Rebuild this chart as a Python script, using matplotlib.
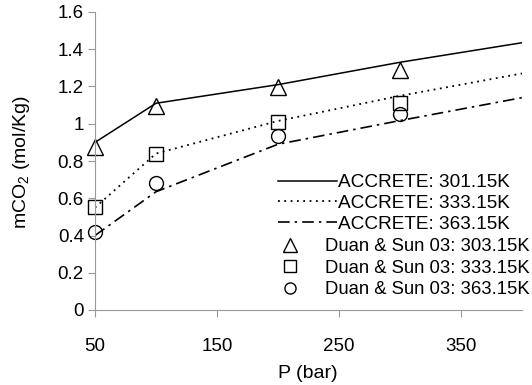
import matplotlib
matplotlib.use("Agg")
import matplotlib.pyplot as plt
from matplotlib.ticker import FuncFormatter, MultipleLocator
from matplotlib.lines import Line2D

plt.rcParams['font.family'] = ['Liberation Sans', 'DejaVu Sans']
plt.rcParams['mathtext.fontset'] = 'custom'
plt.rcParams['mathtext.rm'] = 'Liberation Sans'
plt.rcParams['mathtext.it'] = 'Liberation Sans'

# Data
P_model = [50, 100, 200, 300, 400]
accrete_301 = [0.90, 1.11, 1.21, 1.33, 1.435]
accrete_333 = [0.55, 0.84, 1.015, 1.15, 1.27]
accrete_363 = [0.40, 0.635, 0.89, 1.017, 1.14]

P_data = [50, 100, 200, 300]
duan_303 = [0.877, 1.095, 1.195, 1.29]
duan_333 = [0.553, 0.84, 1.01, 1.11]
duan_363 = [0.42, 0.68, 0.935, 1.05]

x_ticks = [50, 150, 250, 350]

W, H = 532, 385
fig = plt.figure(figsize=(W/100, H/100), dpi=100)
ax = fig.add_axes([95/W, 1-310/H, (522-95)/W, (310-12)/H])

ax.plot(P_model, accrete_301, color='black', lw=1.1, ls='-')
ax.plot(P_model, accrete_333, color='black', lw=1.3, ls=(0, (1, 2.5)))
ax.plot(P_model, accrete_363, color='black', lw=1.2, ls=(0, (7, 3, 1.5, 3)))

mk = dict(ls='none', mfc='none', mec='black', mew=1.0)
ax.plot(P_data, duan_303, marker='^', ms=11, clip_on=False, **mk)
ax.plot(P_data, duan_333, marker='s', ms=9.5, clip_on=False, **mk)
ax.plot(P_data, duan_363, marker='o', ms=10, clip_on=False, **mk)

ax.set_xlim(50, 400)
ax.set_ylim(0, 1.6)
ax.set_xticks(x_ticks)
ax.yaxis.set_major_locator(MultipleLocator(0.2))
ax.yaxis.set_major_formatter(FuncFormatter(lambda v, p: '%g' % round(v, 2)))

for s in ['top', 'right']:
    ax.spines[s].set_visible(False)
for s in ['left', 'bottom']:
    ax.spines[s].set_color('#999999')
    ax.spines[s].set_linewidth(0.8)
ax.tick_params(axis='both', colors='#999999', labelcolor='black', labelsize=13.5, length=5, width=0.8)
ax.tick_params(axis='x', pad=15)
ax.tick_params(axis='y', pad=3)

ax.set_xlabel('P (bar)', fontsize=14)
ax.set_ylabel('mCO$_2$ (mol/Kg)', fontsize=14)
ax.xaxis.set_label_coords((308-95)/(522-95), -(374-310)/(310-12), transform=ax.transAxes)
ax.xaxis.label.set_verticalalignment('center')
ax.yaxis.set_label_coords(-(95-22)/(522-95), (310-162)/(310-12), transform=ax.transAxes)
ax.yaxis.label.set_verticalalignment('center')

# Legends (Excel-like layout)
line_handles = [
    Line2D([], [], color='black', lw=1.1, ls='-'),
    Line2D([], [], color='black', lw=1.3, ls=(0, (1, 2.5))),
    Line2D([], [], color='black', lw=1.2, ls=(0, (7, 3, 1.5, 3))),
]
line_labels = ['ACCRETE: 301.15K', 'ACCRETE: 333.15K', 'ACCRETE: 363.15K']
leg1 = ax.legend(line_handles, line_labels, loc='upper left',
                 bbox_to_anchor=(278/W, 1-174/H), bbox_transform=fig.transFigure,
                 frameon=False, fontsize=13.7, handlelength=3.1, handletextpad=0.05,
                 labelspacing=0.18, borderpad=0, borderaxespad=0)
ax.add_artist(leg1)

mark_handles = [
    Line2D([], [], marker='^', ms=10, **mk),
    Line2D([], [], marker='s', ms=8, **mk),
    Line2D([], [], marker='o', ms=8, **mk),
]
mark_labels = ['Duan & Sun 03: 303.15K', 'Duan & Sun 03: 333.15K', 'Duan & Sun 03: 363.15K']
leg2 = ax.legend(mark_handles, mark_labels, loc='upper left',
                 bbox_to_anchor=(283/W, 1-238/H), bbox_transform=fig.transFigure,
                 frameon=False, fontsize=13.3, handlelength=0.75, handletextpad=1.5,
                 labelspacing=0.25, borderpad=0, borderaxespad=0)

fig.savefig('out.png', dpi=100, facecolor='white')
